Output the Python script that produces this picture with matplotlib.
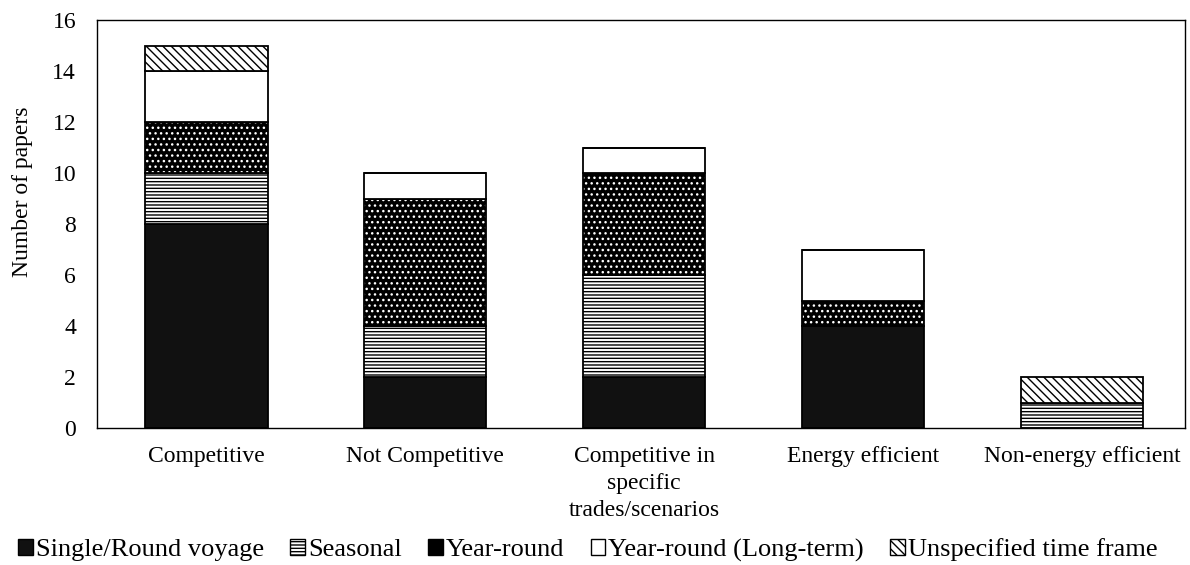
import numpy as np
import matplotlib.pyplot as plt
from matplotlib.patches import Patch

plt.rcParams['font.family'] = ['Liberation Serif', 'DejaVu Serif']
plt.rcParams['hatch.linewidth'] = 1.0

categories = ['Competitive', 'Not Competitive', 'Competitive in\nspecific\ntrades/scenarios',
              'Energy efficient', 'Non-energy efficient']
series = ['Single/Round voyage', 'Seasonal', 'Year-round', 'Year-round (Long-term)',
          'Unspecified time frame']
single = [8, 2, 2, 4, 0]
seasonal = [2, 2, 4, 0, 1]
yearround = [2, 5, 4, 1, 0]
longterm = [2, 1, 1, 2, 0]
unspecified = [1, 0, 0, 0, 1]
values = [single, seasonal, yearround, longterm, unspecified]

# face, hatch, hatch colour
styles = [('#111111', '', 'black'),
          ('white', '-----', 'black'),
          ('black', '...', 'white'),
          ('white', '', 'black'),
          ('white', '\\\\\\\\', 'black')]

fig = plt.figure(figsize=(11.9, 5.65), dpi=100)
ax = fig.add_axes([97 / 1190, 1 - 428 / 565, 1088 / 1190, 408 / 565])

x = np.arange(len(categories))
w = 0.558
bottom = np.zeros(len(categories))
for vals, (fc, h, hc) in zip(values, styles):
    vals = np.array(vals, dtype=float)
    ax.bar(x, vals, w, bottom=bottom, color=fc, hatch=h, edgecolor=hc, linewidth=0)
    ax.bar(x, vals, w, bottom=bottom, fill=False, edgecolor='black', linewidth=1.3)
    bottom += vals

ax.set_xlim(-0.5, 4.47)
ax.set_ylim(0, 16)
ax.set_yticks(range(0, 17, 2))
ax.set_xticks(x)
ax.set_xticklabels(categories, fontsize=17, linespacing=1.36)
ax.tick_params(axis='y', labelsize=17, length=0, pad=15)
ax.tick_params(axis='x', length=0, pad=13)
ax.set_ylabel('Number of papers', fontsize=17)
ax.yaxis.set_label_coords(-0.059, 0.58)
for s in ax.spines.values():
    s.set_linewidth(1.0)

handles = []
for name, (fc, h, hc) in zip(series, styles):
    if hc == 'white':
        handles.append(Patch(facecolor='black', edgecolor='black', hatch=''))
    else:
        handles.append(Patch(facecolor=fc, edgecolor='black', hatch=h))
fig.legend(handles, series, loc='lower center', bbox_to_anchor=(0.494, -0.036), ncol=5,
           frameon=False, fontsize=19, handlelength=0.55, handleheight=0.55,
           handletextpad=0.12, columnspacing=1.0)

fig.savefig('out.png', dpi=100)
